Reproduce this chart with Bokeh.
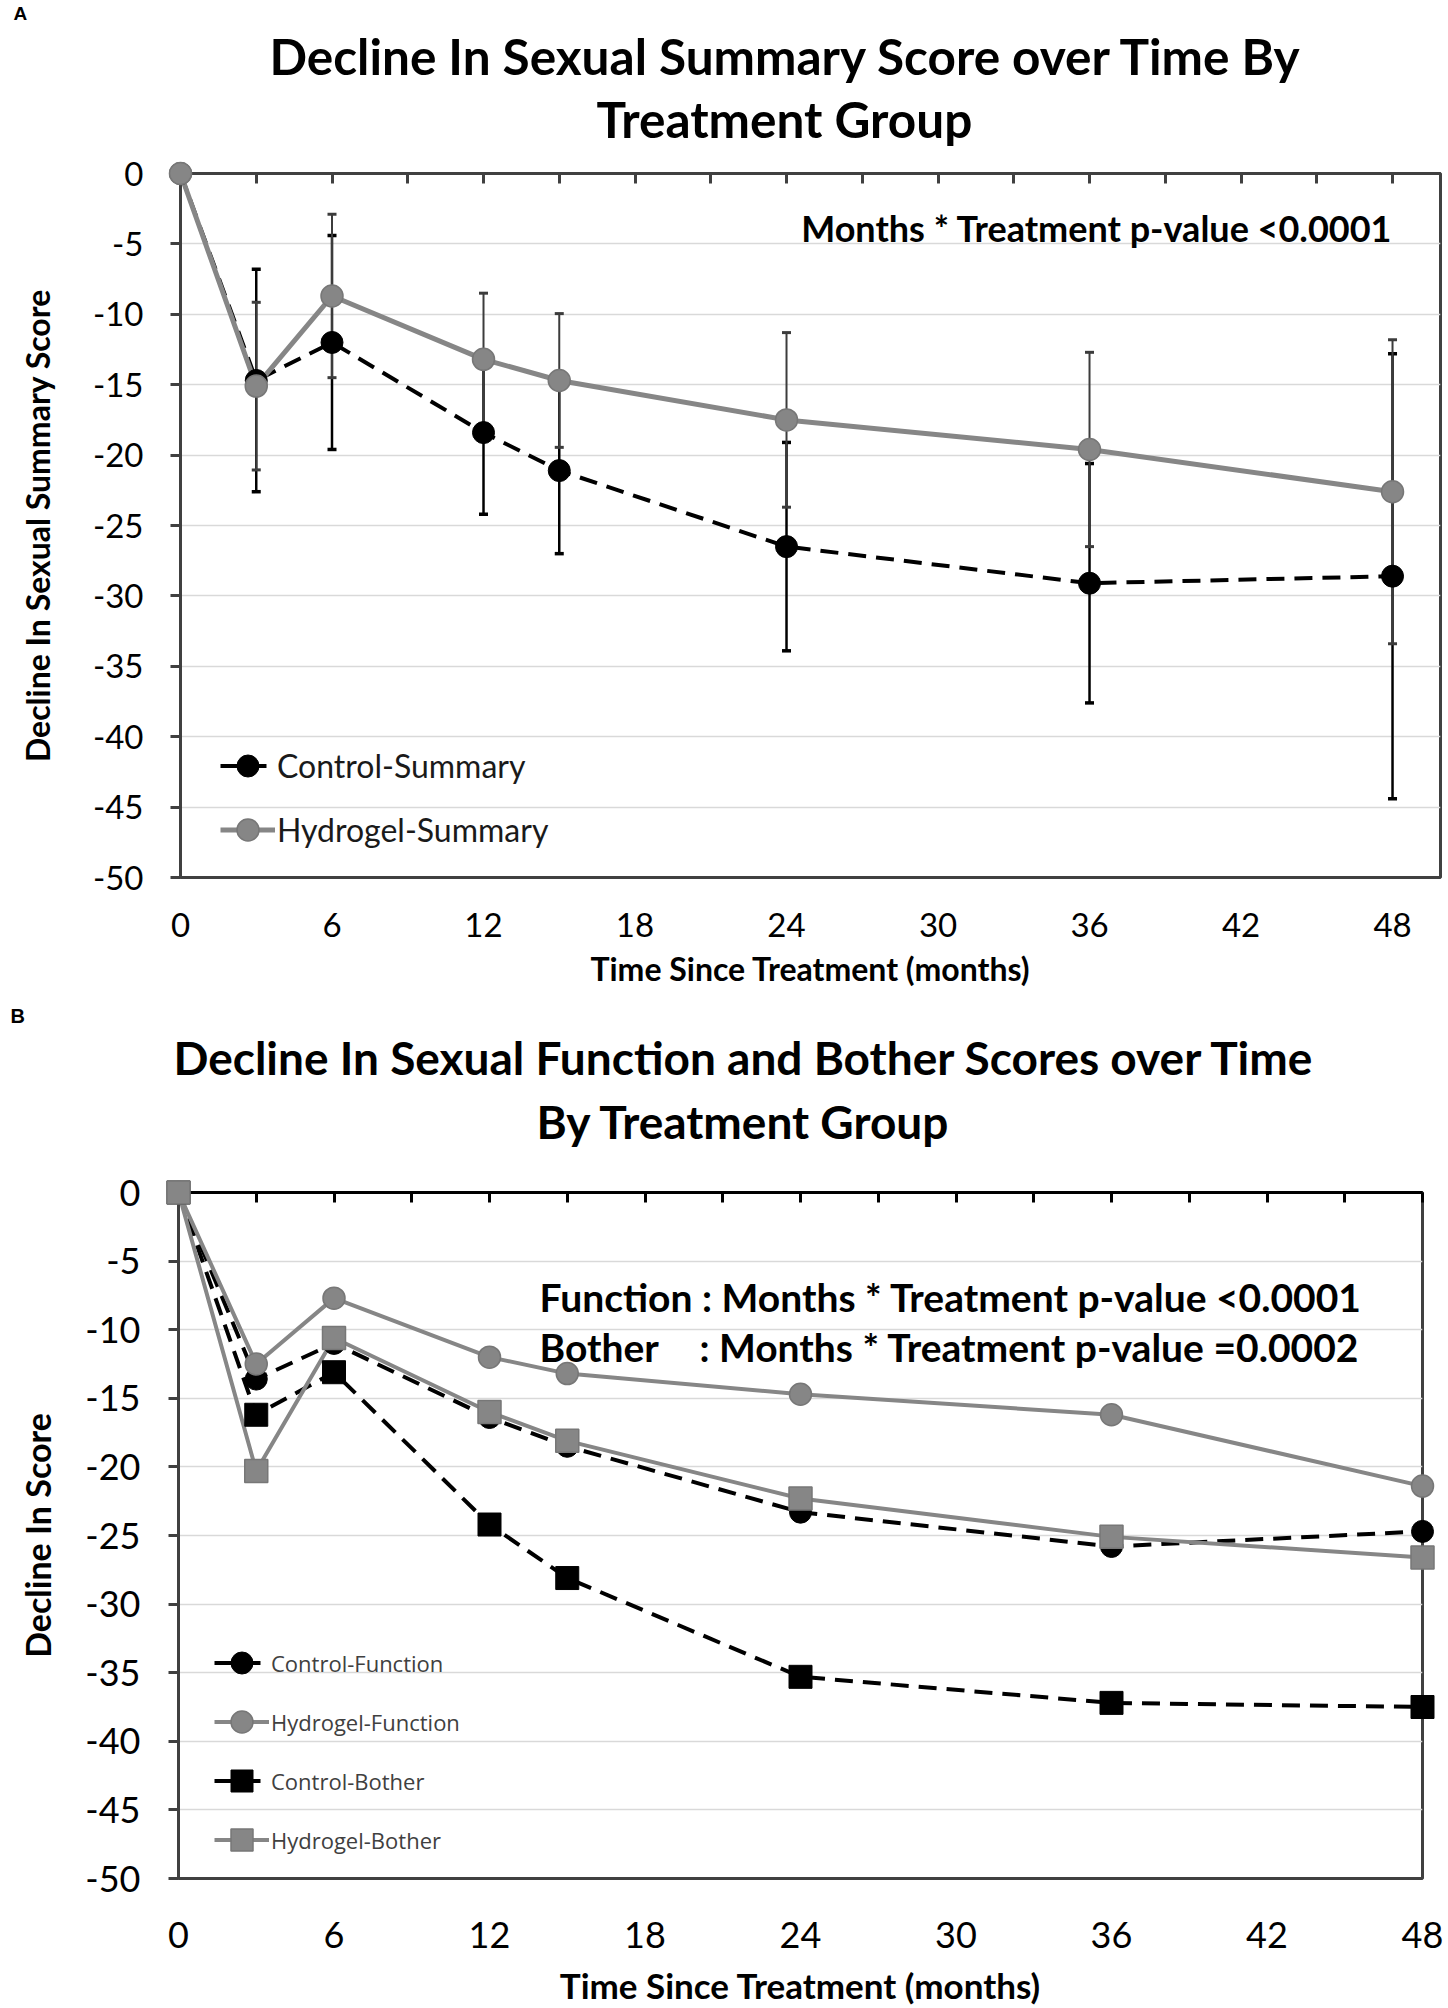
from bokeh.plotting import figure
from bokeh.models import (Label, Legend, LegendItem, LinearAxis, FixedTicker,
                          CustomJSTickFormatter, Range1d, Whisker, TeeHead,
                          ColumnDataSource, Title)
from bokeh.embed import file_html
from bokeh.resources import INLINE

# ---------------- data ----------------
months = [0, 3, 6, 12, 15, 24, 36, 48]
x_tick_labels = [0, 6, 12, 18, 24, 30, 36, 42, 48]
x_minor_ticks = list(range(0, 49, 3))
y_tick_labels = list(range(-50, 1, 5))

control_summary = [0, -14.7, -12.0, -18.4, -21.1, -26.5, -29.1, -28.6]
control_summary_err = [0, 7.9, 7.6, 5.8, 5.9, 7.4, 8.5, 15.8]
hydrogel_summary = [0, -15.1, -8.7, -13.2, -14.7, -17.5, -19.6, -22.6]
hydrogel_summary_err = [0, 5.95, 5.8, 4.7, 4.75, 6.2, 6.9, 10.8]

control_function = [0, -13.6, -11.0, -16.4, -18.5, -23.3, -25.8, -24.7]
hydrogel_function = [0, -12.5, -7.7, -12.0, -13.2, -14.7, -16.2, -21.4]
control_bother = [0, -16.2, -13.1, -24.2, -28.1, -35.3, -37.2, -37.5]
hydrogel_bother = [0, -20.3, -10.6, -16.0, -18.1, -22.3, -25.1, -26.6]

BLACK = "#000000"
GRAY = "#868686"
AXIS = "#404040"
FONT = "Lato"


def base_fig(width, height, xmax, mb_left, mb_right, mb_top, mb_bottom, tick_size,
             xstand, ystand, top_color, top_spacer, xlabel, ylabel, xl_size, yl_size,
             xl_stand, yl_stand):
    p = figure(width=width, height=height, output_backend="svg", toolbar_location=None,
               x_range=Range1d(0, xmax), y_range=Range1d(-50, 0),
               min_border_left=mb_left, min_border_right=mb_right,
               min_border_top=mb_top, min_border_bottom=mb_bottom,
               background_fill_color="white", border_fill_color="white")
    p.outline_line_color = AXIS
    p.outline_line_width = 3
    xa = p.xaxis[0]
    xa.ticker = FixedTicker(ticks=x_tick_labels)
    xa.major_tick_in = 0
    xa.major_tick_out = 0
    xa.minor_tick_out = 0
    xa.axis_line_color = None
    xa.major_label_standoff = xstand
    xa.major_label_text_font = FONT
    xa.major_label_text_font_size = tick_size
    xa.major_label_text_color = BLACK
    xa.axis_label = xlabel
    xa.axis_label_text_font = FONT
    xa.axis_label_text_font_size = xl_size
    xa.axis_label_text_font_style = "bold"
    xa.axis_label_text_color = BLACK
    xa.axis_label_standoff = xl_stand
    ya = p.yaxis[0]
    ya.ticker = FixedTicker(ticks=y_tick_labels)
    ya.formatter = CustomJSTickFormatter(code="return tick.toString()")
    ya.axis_line_color = AXIS
    ya.axis_line_width = 3
    ya.major_tick_in = 0
    ya.major_tick_out = 10
    ya.minor_tick_out = 0
    ya.major_tick_line_color = AXIS
    ya.major_tick_line_width = 3
    ya.major_label_standoff = ystand
    ya.major_label_text_font = FONT
    ya.major_label_text_font_size = tick_size
    ya.major_label_text_color = BLACK
    ya.axis_label = ylabel
    ya.axis_label_text_font = FONT
    ya.axis_label_text_font_size = yl_size
    ya.axis_label_text_font_style = "bold"
    ya.axis_label_text_color = BLACK
    ya.axis_label_standoff = yl_stand
    # top ticks pointing into the plot every 3 months (labels blank)
    top = LinearAxis(ticker=FixedTicker(ticks=x_minor_ticks),
                     formatter=CustomJSTickFormatter(code="return ' '"),
                     major_tick_in=10, major_tick_out=0, minor_tick_out=0,
                     major_tick_line_color=top_color, major_tick_line_width=3,
                     axis_line_color=top_color, axis_line_width=3,
                     major_label_text_font_size="10px",
                     major_label_standoff=top_spacer)
    p.add_layout(top, "above")
    p.xgrid.grid_line_color = None
    p.ygrid.ticker = FixedTicker(ticks=y_tick_labels)
    p.ygrid.grid_line_color = "#d9d9d9"
    p.ygrid.grid_line_width = 1.5
    return p


def add_titles(p, line1, line2, size, off1, off2, s1, s2, letter, letter_offset, letter_size):
    # added closest-to-plot first
    p.add_layout(Title(text=line2, align="left", offset=off2, standoff=s2,
                       vertical_align="middle", text_font=FONT, text_font_size=size,
                       text_font_style="bold", text_color=BLACK,
                       text_line_height=1.0), "above")
    p.add_layout(Title(text=line1, align="left", offset=off1, standoff=s1,
                       vertical_align="middle", text_font=FONT, text_font_size=size,
                       text_font_style="bold", text_color=BLACK,
                       text_line_height=1.0), "above")
    p.add_layout(Title(text=letter, align="left", offset=letter_offset, standoff=0,
                       vertical_align="middle", text_font="Liberation Sans",
                       text_font_size=letter_size, text_font_style="bold",
                       text_color=BLACK, text_line_height=1.0), "above")


# ---------------- Panel A ----------------
pA = base_fig(1448, 1000, 49.9, 180, 8, 173, 123, "33px", 35, 27, AXIS, 8,
              "Time Since Treatment (months)", "Decline In Sexual Summary Score",
              "32px", "32px", 9, 33)

err_src_c = ColumnDataSource(dict(
    x=[m for m, e in zip(months, control_summary_err) if e > 0],
    upper=[v + e for v, e in zip(control_summary, control_summary_err) if e > 0],
    lower=[v - e for v, e in zip(control_summary, control_summary_err) if e > 0]))
err_src_h = ColumnDataSource(dict(
    x=[m for m, e in zip(months, hydrogel_summary_err) if e > 0],
    upper=[v + e for v, e in zip(hydrogel_summary, hydrogel_summary_err) if e > 0],
    lower=[v - e for v, e in zip(hydrogel_summary, hydrogel_summary_err) if e > 0]))

lc = pA.line(months, control_summary, line_color=BLACK, line_width=4, line_dash="18 10")
lh = pA.line(months, hydrogel_summary, line_color=GRAY, line_width=5)
sc = pA.scatter(months, control_summary, marker="circle", size=22,
                fill_color=BLACK, line_color=BLACK, level="overlay")
sh = pA.scatter(months, hydrogel_summary, marker="circle", size=22,
                fill_color=GRAY, line_color="#777777", line_width=1.5, level="overlay")

for src, col, w in ((err_src_c, BLACK, 2.5), (err_src_h, "#3c3c3c", 2)):
    wk = Whisker(source=src, base="x", upper="upper", lower="lower",
                 line_color=col, line_width=w, level="glyph",
                 upper_head=TeeHead(size=9, line_color=col, line_width=w + 1),
                 lower_head=TeeHead(size=9, line_color=col, line_width=w + 1))
    pA.add_layout(wk)

legA = Legend(items=[LegendItem(label="Control-Summary", renderers=[lc, sc]),
                     LegendItem(label="Hydrogel-Summary", renderers=[lh, sh])],
              location=(40, 20), padding=0, margin=0, spacing=9,
              glyph_width=55, glyph_height=55, label_height=55, label_standoff=2,
              label_text_font=FONT, label_text_font_size="32px",
              label_text_color="#1a1a1a", border_line_color=None,
              background_fill_alpha=0)
pA.add_layout(legA)

pA.add_layout(Label(x=48, y=-3.84, text="Months * Treatment p-value <0.0001",
                    text_font=FONT, text_font_size="36px", text_font_style="bold",
                    text_align="right", text_baseline="middle", text_color=BLACK))

add_titles(pA, "Decline In Sexual Summary Score over Time By", "Treatment Group",
           "49.5px", 89, 416, 0, 3, "A", -167, "19px")

# ---------------- Panel B ----------------
pB = base_fig(1448, 1008, 48, 178, 26, 192, 130, "36px", 43, 28, BLACK, 23,
              "Time Since Treatment (months)", "Decline In Score",
              "35px", "34px", 13, 24)

l1 = pB.line(months, control_function, line_color=BLACK, line_width=4, line_dash="18 10")
l3 = pB.line(months, control_bother, line_color=BLACK, line_width=4, line_dash="18 10")
l2 = pB.line(months, hydrogel_function, line_color=GRAY, line_width=4)
l4 = pB.line(months, hydrogel_bother, line_color=GRAY, line_width=4)
s1 = pB.scatter(months, control_function, marker="circle", size=22,
                fill_color=BLACK, line_color=BLACK, level="overlay")
s3 = pB.scatter(months, control_bother, marker="square", size=23,
                fill_color=BLACK, line_color=BLACK, level="overlay")
s2 = pB.scatter(months, hydrogel_function, marker="circle", size=22,
                fill_color=GRAY, line_color="#777777", line_width=1.5, level="overlay")
s4 = pB.scatter(months, hydrogel_bother, marker="square", size=23,
                fill_color=GRAY, line_color="#777777", line_width=1.5, level="overlay")

legB = Legend(items=[LegendItem(label="Control-Function", renderers=[l1, s1]),
                     LegendItem(label="Hydrogel-Function", renderers=[l2, s2]),
                     LegendItem(label="Control-Bother", renderers=[l3, s3]),
                     LegendItem(label="Hydrogel-Bother", renderers=[l4, s4])],
              location=(36, 11), padding=0, margin=0, spacing=4,
              glyph_width=55, glyph_height=55, label_height=55, label_standoff=2,
              label_text_font="Open Sans", label_text_font_size="22px",
              label_text_color="#404040", border_line_color=None,
              background_fill_alpha=0)
pB.add_layout(legB)

for txt, xx, yy in (("Function", 13.93, -7.6), ("Bother", 13.93, -11.25),
                    (": Months * Treatment p-value <0.0001", 20.2, -7.6),
                    (": Months * Treatment p-value =0.0002", 20.1, -11.25)):
    pB.add_layout(Label(x=xx, y=yy, text=txt, text_font=FONT, text_font_size="39px",
                        text_font_style="bold", text_align="left", text_baseline="middle",
                        text_color=BLACK))

add_titles(pB, "Decline In Sexual Function and Bother Scores over Time", "By Treatment Group",
           "46px", -5, 358, 3, 11, "B", -168, "20px")

open("out.html", "w").write(file_html([pA, pB], INLINE))
